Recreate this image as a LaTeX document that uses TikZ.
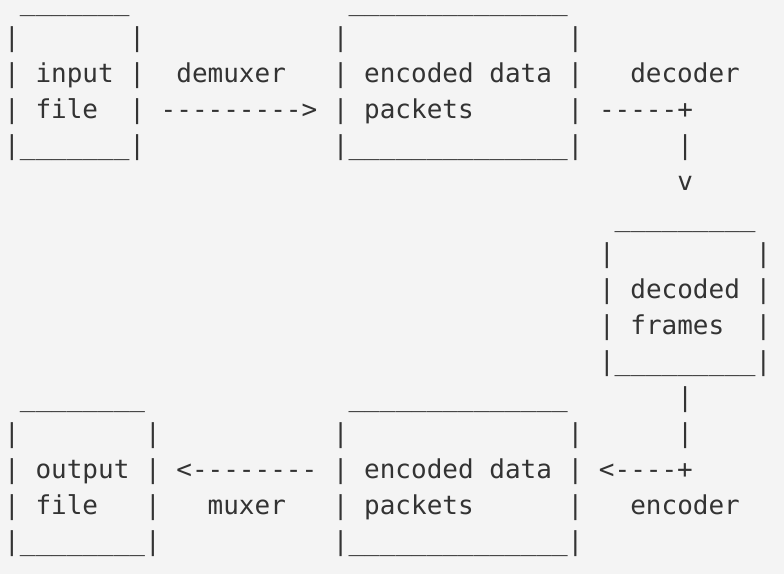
\documentclass[tikz,border=0pt]{standalone}
\usepackage{fontspec}
\newfontfamily\asciifont{DejaVu Sans Mono}[Ligatures=TeXOff]
\definecolor{paper}{HTML}{F4F4F4}
\definecolor{ink}{HTML}{333333}
\begin{document}
\catcode`\_=12
\frenchspacing
% one character cell is 7.827pt wide, one text line is 18pt high
\begin{tikzpicture}[x=7.827pt, y=-18pt,
  line/.style={anchor=base west, inner sep=0pt, outer sep=0pt, text=ink,
               font=\asciifont\fontsize{13}{18}\selectfont},
  ruleline/.style={line, text height=1pt}]
\fill[paper] (-2.1pt,5pt) rectangle (389.9pt,-282pt);
\useasboundingbox (-2.1pt,5pt) rectangle (389.9pt,-282pt);
% input file -> encoded data packets
\node[ruleline] (row0) at (0,0) {~_______~~~~~~~~~~~~~~______________};
\node[line] (row1)  at (0,1)  {|~~~~~~~|~~~~~~~~~~~~|~~~~~~~~~~~~~~|};
\node[line] (row2)  at (0,2)  {|~input~|~~demuxer~~~|~encoded~data~|~~~decoder};
\node[line] (row3)  at (0,3)  {|~file~~|~--------->~|~packets~~~~~~|~-----+};
\node[line] (row4)  at (0,4)  {|_______|~~~~~~~~~~~~|______________|~~~~~~|};
\node[line] (row5)  at (43,5) {v};
% decoded frames
\node[ruleline] (row6) at (39,6) {_________};
\node[line] (row7)  at (38,7) {|~~~~~~~~~|};
\node[line] (row8)  at (38,8) {|~decoded~|};
\node[line] (row9)  at (38,9) {|~frames~~|};
\node[line] (row10) at (38,10) {|_________|};
% encoded data packets -> output file
\node[line] (row11) at (0,11) {~________~~~~~~~~~~~~~______________~~~~~~~|};
\node[line] (row12) at (0,12) {|~~~~~~~~|~~~~~~~~~~~|~~~~~~~~~~~~~~|~~~~~~|};
\node[line] (row13) at (0,13) {|~output~|~<--------~|~encoded~data~|~<----+};
\node[line] (row14) at (0,14) {|~file~~~|~~~muxer~~~|~packets~~~~~~|~~~encoder};
\node[line] (row15) at (0,15) {|________|~~~~~~~~~~~|______________|};
\end{tikzpicture}
\end{document}
